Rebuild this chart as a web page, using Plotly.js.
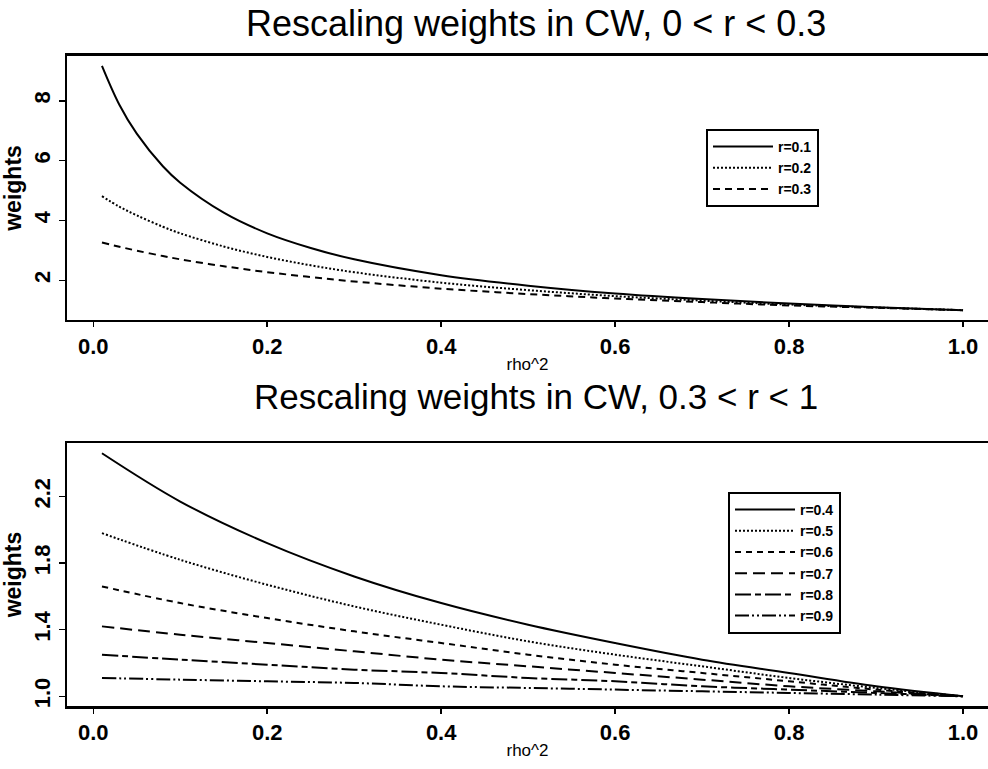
<!DOCTYPE html>
<html>
<head>
<meta charset="utf-8">
<script src="https://cdn.plot.ly/plotly-3.0.1.min.js"></script>
<style>html,body{margin:0;padding:0;background:#fff;}</style>
</head>
<body>
<div id="chart" style="width:988px;height:769px;"></div>
<script>
// top panel: rho^2 values and weights for r = 0.1, 0.2, 0.3
const rhoTop = [0.01, 0.03, 0.05, 0.08, 0.1, 0.15, 0.2, 0.25, 0.3, 0.4, 0.5, 0.6, 0.7, 0.8, 0.9, 1.0];
const w01 = [9.17, 7.87, 6.90, 5.81, 5.26, 4.26, 3.57, 3.08, 2.70, 2.17, 1.82, 1.56, 1.37, 1.22, 1.10, 1.00];
const w02 = [4.81, 4.46, 4.17, 3.79, 3.57, 3.13, 2.78, 2.50, 2.27, 1.92, 1.67, 1.47, 1.32, 1.19, 1.09, 1.00];
const w03 = [3.26, 3.12, 2.99, 2.81, 2.70, 2.47, 2.27, 2.11, 1.96, 1.72, 1.54, 1.39, 1.27, 1.16, 1.08, 1.00];

// bottom panel: r = 0.4 ... 0.9
const rhoBot = [0.01, 0.1, 0.2, 0.3, 0.4, 0.5, 0.6, 0.7, 0.8, 0.9, 1.0];
const w04 = [2.46, 2.17, 1.92, 1.72, 1.56, 1.43, 1.32, 1.22, 1.14, 1.06, 1.00];
const w05 = [1.98, 1.82, 1.67, 1.54, 1.43, 1.33, 1.25, 1.18, 1.11, 1.05, 1.00];
const w06 = [1.66, 1.56, 1.47, 1.39, 1.32, 1.25, 1.19, 1.14, 1.09, 1.04, 1.00];
const w07 = [1.42, 1.37, 1.32, 1.27, 1.22, 1.18, 1.14, 1.10, 1.06, 1.03, 1.00];
const w08 = [1.25, 1.22, 1.19, 1.16, 1.14, 1.11, 1.09, 1.06, 1.04, 1.02, 1.00];
const w09 = [1.11, 1.10, 1.09, 1.08, 1.06, 1.05, 1.04, 1.03, 1.02, 1.01, 1.00];

const topNames = ["r=0.1", "r=0.2", "r=0.3"];
const botNames = ["r=0.4", "r=0.5", "r=0.6", "r=0.7", "r=0.8", "r=0.9"];
const xTicks = [0, 0.2, 0.4, 0.6, 0.8, 1.0];
const xTickText = ["0.0", "0.2", "0.4", "0.6", "0.8", "1.0"];
const yTopTicks = [2, 4, 6, 8];
const yBotTicks = [1.0, 1.4, 1.8, 2.2];
const yBotText = ["1.0", "1.4", "1.8", "2.2"];

const FONT = "Liberation Sans, Arial, Helvetica, sans-serif";
const topDash = ["solid", "2px,2px", "7px,5px"];
const botDash = ["solid", "2px,2px", "6px,5px", "12px,6px", "16px,4px,6px,4px", "14px,3px,2px,3px,2px,3px"];

const traces = [];
[w01, w02, w03].forEach((w, i) => {
  traces.push({x: rhoTop, y: w, xaxis: "x", yaxis: "y", type: "scatter", mode: "lines",
    line: {color: "#000", width: 2, dash: topDash[i], shape: "spline"},
    name: topNames[i], legend: "legend"});
});
[w04, w05, w06, w07, w08, w09].forEach((w, i) => {
  traces.push({x: rhoBot, y: w, xaxis: "x2", yaxis: "y2", type: "scatter", mode: "lines",
    line: {color: "#000", width: 2, dash: botDash[i], shape: "spline"},
    name: botNames[i], legend: "legend2"});
});

const xCommon = {
  range: [-0.0302, 1.0287], domain: [67/988, 1],
  showline: true, mirror: true, linecolor: "#000", linewidth: 2.5,
  ticks: "outside", ticklen: 5, tickwidth: 1.5, tickcolor: "#000",
  tickvals: xTicks, ticktext: xTickText, showgrid: false, zeroline: false,
  tickfont: {family: FONT, size: 22, color: "#000", weight: "bold"},
  title: {text: "rho^2", font: {family: FONT, size: 17, color: "#000"}, standoff: 0}
};
const yCommon = {
  showline: true, mirror: false, linecolor: "#000", linewidth: 2.5,
  ticks: "outside", ticklen: 6, tickwidth: 1.5, tickcolor: "#000",
  showgrid: false, zeroline: false, tickangle: -90,
  tickfont: {family: FONT, size: 22, color: "#000", weight: "bold"},
  title: {text: "weights", font: {family: FONT, size: 23, color: "#000", weight: "bold"}, standoff: 2}
};

const legendCommon = {xanchor: "left", yanchor: "top",
  bordercolor: "#000", borderwidth: 2, bgcolor: "#fff",
  font: {family: FONT, size: 14, color: "#000", weight: "bold"}, tracegroupgap: 0, itemwidth: 60};

const layout = {
  width: 988, height: 769,
  margin: {l: 0, r: 0, t: 0, b: 0},
  paper_bgcolor: "#fff", plot_bgcolor: "#fff",
  showlegend: true,
  xaxis: Object.assign({}, xCommon, {anchor: "y"}),
  yaxis: Object.assign({}, yCommon, {domain: [0.5839, 0.9272], range: [0.673, 9.497], tickvals: yTopTicks, anchor: "x"}),
  xaxis2: Object.assign({}, xCommon, {anchor: "y2"}),
  yaxis2: Object.assign({}, yCommon, {domain: [0.0819, 0.4239], range: [0.9415, 2.5215], tickvals: yBotTicks, ticktext: yBotText, anchor: "x2"}),
  legend: Object.assign({}, legendCommon, {x: 706/988, y: 1 - 129/769}),
  legend2: Object.assign({}, legendCommon, {x: 728/988, y: 1 - 492/769}),
  annotations: [
    {text: "Rescaling weights in CW, 0 < r < 0.3", xref: "paper", yref: "paper",
     x: 536/988, y: 1 - 23/769, xanchor: "center", yanchor: "middle", showarrow: false,
     font: {family: FONT, size: 36, color: "#000"}},
    {text: "Rescaling weights in CW, 0.3 < r < 1", xref: "paper", yref: "paper",
     x: 536/988, y: 1 - 396/769, xanchor: "center", yanchor: "middle", showarrow: false,
     font: {family: FONT, size: 35, color: "#000"}}
  ]
};

Plotly.newPlot("chart", traces, layout, {displayModeBar: false, staticPlot: true});
</script>
</body>
</html>
